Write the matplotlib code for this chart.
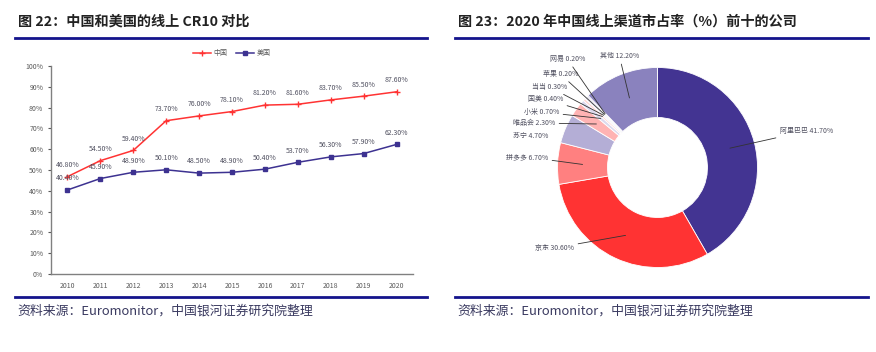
import matplotlib
matplotlib.use("Agg")
import matplotlib.pyplot as plt
from matplotlib.lines import Line2D
import numpy as np

plt.rcParams['font.family'] = ['Noto Sans CJK SC', 'DejaVu Sans']

# Figure 22 data: online CR10, China vs USA
years = ['2010', '2011', '2012', '2013', '2014', '2015', '2016', '2017', '2018', '2019', '2020']
cr10_china = [46.8, 54.5, 59.4, 73.7, 76.0, 78.1, 81.2, 81.6, 83.7, 85.5, 87.6]
cr10_usa = [40.4, 45.9, 48.9, 50.1, 48.5, 48.9, 50.4, 53.7, 56.3, 57.9, 62.3]

# Figure 23 data: 2020 online market share, top ten companies
companies = ['阿里巴巴', '京东', '拼多多', '苏宁', '唯品会', '小米', '国美', '当当', '苹果', '网易', '其他']
shares = [41.7, 30.6, 6.7, 4.7, 2.3, 0.7, 0.4, 0.3, 0.2, 0.2, 12.2]
pie_colors = ['#433492', '#ff3333', '#ff8080', '#b4aed6', '#ffb3b3', '#dcd9ee',
              '#ffd6d6', '#ecebf6', '#a9a4d0', '#9a94c6', '#8a82be']
# label text anchor (pixel coords of reference, converted below)
label_px = [(780, 131), (574, 248), (548, 157), (548, 136), (555, 123), (559, 112),
            (563, 99), (567, 87), (578, 74), (585, 59), (639, 56)]

W, H = 876, 352
fig = plt.figure(figsize=(W / 100, H / 100), dpi=100)

navy = '#14148c'
title_col = '#222222'
src_col = '#3a3a60'

# --- frame: titles, rules, sources
for x0, x1, title in [(15, 427, '图 22：中国和美国的线上 CR10 对比'),
                      (455, 868, '图 23：2020 年中国线上渠道市占率（%）前十的公司')]:
    fig.text(x0 / W + 0.003, 1 - 22 / H, title, fontsize=10.2, color=title_col,
             fontweight='bold', va='center', ha='left')
    fig.add_artist(Line2D([x0 / W, x1 / W], [1 - 37.5 / H] * 2, color=navy, lw=2.0))
    fig.add_artist(Line2D([x0 / W, x1 / W], [1 - 296.5 / H] * 2, color=navy, lw=2.0))
    fig.text(x0 / W + 0.003, 1 - 311 / H, '资料来源：Euromonitor，中国银河证券研究院整理',
             fontsize=9.3, color=src_col, style='italic', va='center', ha='left')

# --- left: line chart
ax = fig.add_axes([51 / W, 1 - 274 / H, (413 - 51) / W, (274 - 66) / H])
xs = list(range(len(years)))
ax.plot(xs, cr10_china, color='#ff3333', lw=1.1, marker='+', ms=4, mew=1.0, label='中国')
ax.plot(xs, cr10_usa, color='#3d3291', lw=1.1, marker='s', ms=3.2, label='美国')
for i in xs:
    ax.annotate(f'{cr10_china[i]:.2f}%', (i, cr10_china[i]), xytext=(0, 5.5),
                textcoords='offset points', ha='center', va='bottom', fontsize=5, color='#505060')
    ax.annotate(f'{cr10_usa[i]:.2f}%', (i, cr10_usa[i]), xytext=(0, 5.5),
                textcoords='offset points', ha='center', va='bottom', fontsize=5, color='#505060')
ax.set_xlim(-0.5, len(years) - 0.5)
ax.set_ylim(0, 100)
ax.set_xticks(xs)
ax.set_xticklabels(years)
ax.set_yticks(range(0, 101, 10))
ax.set_yticklabels([f'{v}%' for v in range(0, 101, 10)])
ax.tick_params(axis='x', length=0, labelsize=5, colors='#595959', pad=6)
ax.tick_params(axis='y', length=2.5, width=0.8, labelsize=5, colors='#595959', pad=3)
for s in ['top', 'right']:
    ax.spines[s].set_visible(False)
for s in ['left', 'bottom']:
    ax.spines[s].set_color('#808080')
    ax.spines[s].set_linewidth(1.0)
fig.legend(*ax.get_legend_handles_labels(), loc='center', bbox_to_anchor=(232 / W, 1 - 53 / H),
           ncol=2, frameon=False, fontsize=5, handlelength=2.6, columnspacing=1.2,
           handletextpad=0.4, labelcolor='#595959')

# --- right: donut chart
cx, cy, R = 657.5, 167.5, 100
pax = fig.add_axes([(cx - 1.1 * R) / W, 1 - (cy + 1.1 * R) / H, 2.2 * R / W, 2.2 * R / H])
wedges, _ = pax.pie(shares, colors=pie_colors, startangle=90, counterclock=False,
                    radius=1.0, wedgeprops=dict(width=0.5, edgecolor='white', linewidth=0.6))
pax.set_xlim(-1.1, 1.1)
pax.set_ylim(-1.1, 1.1)
pax.set_aspect('equal')
pax.axis('off')

angle = 90.0
for name, share, (px, py) in zip(companies, shares, label_px):
    theta = angle - share * 3.6 / 2
    angle -= share * 3.6
    mx, my = 0.75 * np.cos(np.radians(theta)), 0.75 * np.sin(np.radians(theta))
    tx, ty = (px - cx) / R, (cy - py) / R
    ha = 'left' if tx > 0 else 'right'
    props = None if name == '苏宁' else dict(arrowstyle='-', color='#333333', lw=0.6,
                                              shrinkA=1, shrinkB=0)
    pax.annotate(f'{name} {share:.2f}%', (mx, my), xytext=(tx, ty), ha=ha, va='center',
                 fontsize=5, color='#505060', arrowprops=props, annotation_clip=False)

fig.savefig('out.png', dpi=100)
